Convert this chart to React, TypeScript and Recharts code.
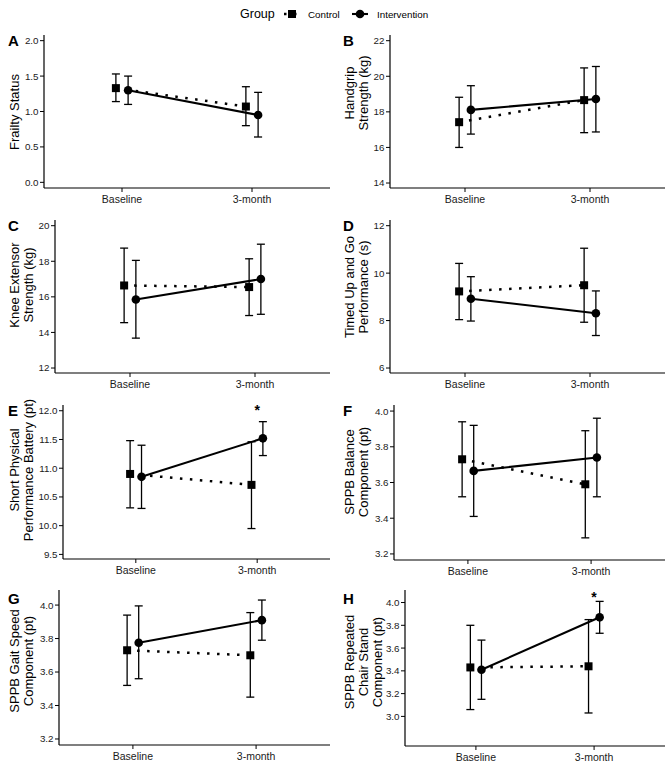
import React from "react";
import { ComposedChart, Line, XAxis, YAxis, ErrorBar, ReferenceDot } from "recharts";

const timepoints = ["Baseline", "3-month"];
const groups = ["Control", "Intervention"];

// each row: [mean, lower, upper] for Baseline, 3-month
const frailtyControl = [[1.33, 1.14, 1.53], [1.07, 0.8, 1.35]];
const frailtyIntervention = [[1.3, 1.1, 1.5], [0.95, 0.64, 1.27]];
const frailtyTicks = [0, 0.5, 1, 1.5, 2];

const handgripControl = [[17.42, 16.0, 18.82], [18.66, 16.83, 20.47]];
const handgripIntervention = [[18.11, 16.75, 19.47], [18.72, 16.87, 20.55]];
const handgripTicks = [14, 16, 18, 20, 22];

const kneeControl = [[16.64, 14.55, 18.74], [16.55, 14.95, 18.14]];
const kneeIntervention = [[15.85, 13.68, 18.05], [17.0, 15.02, 18.96]];
const kneeTicks = [12, 14, 16, 18, 20];

const tugControl = [[9.23, 8.04, 10.41], [9.49, 7.93, 11.05]];
const tugIntervention = [[8.92, 7.98, 9.85], [8.31, 7.37, 9.25]];
const tugTicks = [6, 8, 10, 12];

const sppbControl = [[10.9, 10.31, 11.48], [10.71, 9.95, 11.46]];
const sppbIntervention = [[10.85, 10.3, 11.4], [11.52, 11.22, 11.81]];
const sppbTicks = [9.5, 10, 10.5, 11, 11.5, 12];
const sppbStar = [{ x: 2, y: 12.05, text: "*" }];

const balanceControl = [[3.73, 3.52, 3.94], [3.59, 3.29, 3.89]];
const balanceIntervention = [[3.665, 3.41, 3.92], [3.74, 3.52, 3.96]];
const balanceTicks = [3.2, 3.4, 3.6, 3.8, 4.0];

const gaitControl = [[3.73, 3.52, 3.94], [3.7, 3.45, 3.955]];
const gaitIntervention = [[3.775, 3.56, 3.995], [3.91, 3.79, 4.03]];
const gaitTicks = [3.2, 3.4, 3.6, 3.8, 4.0];

const chairControl = [[3.43, 3.06, 3.8], [3.44, 3.03, 3.85]];
const chairIntervention = [[3.41, 3.15, 3.67], [3.87, 3.73, 4.01]];
const chairTicks = [3.0, 3.2, 3.4, 3.6, 3.8, 4.0];
const chairStar = [{ x: 2, y: 4.07, text: "*" }];

const FONT = '"Liberation Sans", Arial, Helvetica, sans-serif';
const DODGE = 0.047;
const MT = 6;
const MR = 2;
const XH = 28;

const toPoints = (stats: number[][], offset: number) =>
  stats.map(([m, lo, hi], i) => ({ x: i + 1 + offset, y: m, err: [m - lo, hi - m] }));

// labelY: page y of the axis-title centre
const panels = [
  { letter: "A", label: ["Frailty Status"], control: frailtyControl, intervention: frailtyIntervention, ticks: frailtyTicks, domain: [-0.08, 2.08], digits: 1, stars: [], col: 0, axisX: 44, right: 330, top: 35, bottom: 188, letterY: 46, labelY: 112 },
  { letter: "B", label: ["Handgrip", "Strength (kg)"], control: handgripControl, intervention: handgripIntervention, ticks: handgripTicks, domain: [13.72, 22.32], digits: 0, stars: [], col: 335, axisX: 390, right: 665, top: 35, bottom: 188, letterY: 46, labelY: 93 },
  { letter: "C", label: ["Knee Extensor", "Strength (kg)"], control: kneeControl, intervention: kneeIntervention, ticks: kneeTicks, domain: [11.72, 20.32], digits: 0, stars: [], col: 0, axisX: 55, right: 330, top: 220, bottom: 373, letterY: 231, labelY: 285 },
  { letter: "D", label: ["Timed Up and Go", "Performance (s)"], control: tugControl, intervention: tugIntervention, ticks: tugTicks, domain: [5.79, 12.24], digits: 0, stars: [], col: 335, axisX: 390, right: 665, top: 220, bottom: 373, letterY: 231, labelY: 287 },
  { letter: "E", label: ["Short Physical", "Performance Battery (pt)"], control: sppbControl, intervention: sppbIntervention, ticks: sppbTicks, domain: [9.42, 12.1], digits: 1, stars: sppbStar, col: 0, axisX: 63, right: 330, top: 405, bottom: 559, letterY: 416, labelY: 470 },
  { letter: "F", label: ["SPPB Balance", "Component (pt)"], control: balanceControl, intervention: balanceIntervention, ticks: balanceTicks, domain: [3.166, 4.034], digits: 1, stars: [], col: 335, axisX: 394, right: 665, top: 405, bottom: 560, letterY: 416, labelY: 472 },
  { letter: "G", label: ["SPPB Gait Speed", "Component (pt)"], control: gaitControl, intervention: gaitIntervention, ticks: gaitTicks, domain: [3.164, 4.09], digits: 1, stars: [], col: 0, axisX: 59, right: 330, top: 590, bottom: 745, letterY: 604, labelY: 661 },
  { letter: "H", label: ["SPPB Repeated", "Chair Stand", "Component (pt)"], control: chairControl, intervention: chairIntervention, ticks: chairTicks, domain: [2.74, 4.11], digits: 1, stars: chairStar, col: 335, axisX: 405, right: 665, top: 590, bottom: 746, letterY: 604, labelY: 662 },
];

const squareDot = (p: any) => (
  <rect key={`s${p.index}`} x={p.cx - 4} y={p.cy - 4} width={8} height={8} fill="#000" />
);
const circleDot = (p: any) => (
  <circle key={`c${p.index}`} cx={p.cx} cy={p.cy} r={4.3} fill="#000" />
);

function Panel({ cfg }: { cfg: (typeof panels)[number] }) {
  const width = cfg.right - cfg.col + MR;
  const height = cfg.bottom - cfg.top + MT + XH;
  const midY = cfg.labelY - (cfg.top - MT);

  const yLabel = () => (
    <g>
      {cfg.label.map((line, i) => (
        <text
          key={line}
          x={14 + 14 * i}
          y={midY}
          transform={`rotate(-90 ${14 + 14 * i} ${midY})`}
          textAnchor="middle"
          dominantBaseline="central"
          fontSize={13}
          fontFamily={FONT}
          fill="#000"
        >
          {line}
        </text>
      ))}
    </g>
  );

  return (
    <div style={{ position: "absolute", left: cfg.col, top: cfg.top - MT }}>
      <ComposedChart width={width} height={height} margin={{ top: MT, right: MR, bottom: 0, left: 0 }}>
        <XAxis
          type="number"
          dataKey="x"
          domain={[0.4, 2.6]}
          ticks={[1, 2]}
          tickFormatter={(v: number) => timepoints[v - 1]}
          height={XH}
          axisLine={{ stroke: "#000", strokeWidth: 1.2 }}
          tickLine={{ stroke: "#000", strokeWidth: 1 }}
          tickSize={4}
          tickMargin={4}
          tick={{ fontSize: 10.5, fill: "#1a1a1a", fontFamily: FONT }}
          allowDataOverflow
        />
        <YAxis
          type="number"
          domain={cfg.domain}
          ticks={cfg.ticks}
          allowDataOverflow
          tickFormatter={(v: number) => v.toFixed(cfg.digits)}
          width={cfg.axisX - cfg.col}
          axisLine={{ stroke: "#000", strokeWidth: 1.2 }}
          tickLine={{ stroke: "#000", strokeWidth: 1 }}
          tickSize={4}
          tickMargin={1.5}
          tick={{ fontSize: 9.8, fill: "#1a1a1a", fontFamily: FONT }}
          label={yLabel}
        />
        <Line
          data={toPoints(cfg.control, -DODGE)}
          dataKey="y"
          name={groups[0]}
          type="linear"
          stroke="#000"
          strokeWidth={2.5}
          strokeDasharray="2.5 7.5"
          dot={squareDot}
          activeDot={false}
          isAnimationActive={false}
        >
          <ErrorBar dataKey="err" direction="y" width={4} stroke="#000" strokeWidth={1.3} />
        </Line>
        <Line
          data={toPoints(cfg.intervention, DODGE)}
          dataKey="y"
          name={groups[1]}
          type="linear"
          stroke="#000"
          strokeWidth={2.1}
          dot={circleDot}
          activeDot={false}
          isAnimationActive={false}
        >
          <ErrorBar dataKey="err" direction="y" width={4} stroke="#000" strokeWidth={1.3} />
        </Line>
        {cfg.stars.map((s) => (
          <ReferenceDot
            key={s.text + s.x}
            x={s.x}
            y={s.y}
            r={0}
            shape={(p: any) => (
              <text x={p.cx} y={p.cy + 7} textAnchor="middle" fontSize={14} fontWeight="bold" fontFamily={FONT} fill="#000">
                {s.text}
              </text>
            )}
          />
        ))}
      </ComposedChart>
      <div
        style={{
          position: "absolute",
          left: 8,
          top: cfg.letterY - (cfg.top - MT) - 13.5,
          fontFamily: FONT,
          fontWeight: "bold",
          fontSize: 15,
          lineHeight: "16px",
        }}
      >
        {cfg.letter}
      </div>
    </div>
  );
}

function GroupLegend() {
  const cy = 14;
  return (
    <svg width={669} height={26} style={{ position: "absolute", left: 0, top: 0 }}>
      <text x={240} y={cy} dominantBaseline="central" fontSize={12.5} fontFamily={FONT} fill="#000">
        Group
      </text>
      <line x1={284} x2={300} y1={cy} y2={cy} stroke="#000" strokeWidth={2.5} strokeDasharray="2.5 7.5" />
      <rect x={288} y={cy - 4} width={8} height={8} fill="#000" />
      <text x={308} y={cy} dominantBaseline="central" fontSize={9.8} fontFamily={FONT} fill="#000">
        {groups[0]}
      </text>
      <line x1={352} x2={368} y1={cy} y2={cy} stroke="#000" strokeWidth={2.1} />
      <circle cx={360} cy={cy} r={4.3} fill="#000" />
      <text x={377} y={cy} dominantBaseline="central" fontSize={9.8} fontFamily={FONT} fill="#000">
        {groups[1]}
      </text>
    </svg>
  );
}

export default function App() {
  return (
    <div style={{ position: "absolute", left: 0, top: 0, width: 669, height: 766, background: "#fff" }}>
      <GroupLegend />
      {panels.map((p) => (
        <Panel key={p.letter} cfg={p} />
      ))}
    </div>
  );
}
